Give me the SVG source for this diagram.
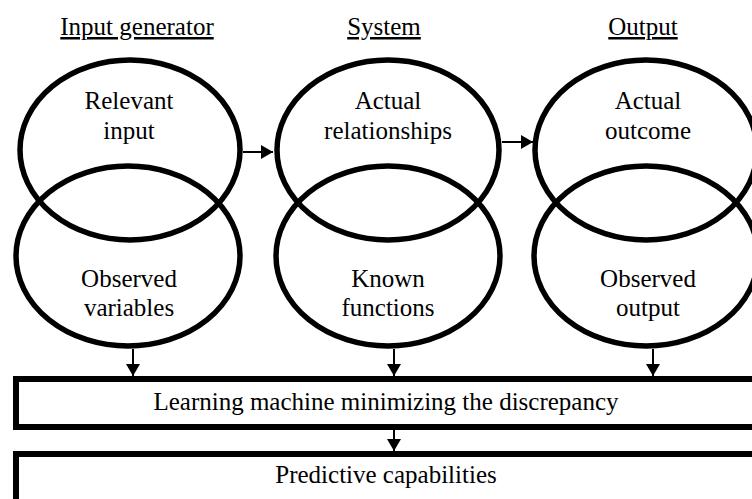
<svg xmlns="http://www.w3.org/2000/svg" width="752" height="499" viewBox="0 0 752 499">
<style>
text{font-family:'Liberation Serif',serif !important;font-size:25px;fill:#000;text-anchor:middle}
.title{text-decoration:underline}
.ell{fill:none;stroke:#000;stroke-width:5.5}
.box{fill:#fff;stroke:#000;stroke-width:6}
.conn{stroke:#000;stroke-width:2;fill:none}
</style>
<defs>
<marker id="ah" viewBox="0 0 12 14" refX="12" refY="7" markerWidth="12" markerHeight="14" markerUnits="userSpaceOnUse" orient="auto">
<path d="M0,0 L12,7 L0,14 Z" fill="#000"/>
</marker>
</defs>
<rect width="752" height="499" fill="#fff"/>
<g id="titles">
<text class="title" x="137" y="35" style="font-family:'Liberation Serif',serif !important">Input generator</text>
<text class="title" x="384" y="35" style="font-family:'Liberation Serif',serif !important">System</text>
<text class="title" x="643" y="35" style="font-family:'Liberation Serif',serif !important">Output</text>
</g>
<g id="relevant-input">
<ellipse class="ell" cx="130" cy="150" rx="110" ry="90"/>
<text x="129" y="109" font-family="Liberation Serif" style="font-family:'Liberation Serif',serif !important">Relevant</text>
<text x="129" y="139" font-family="Liberation Serif" style="font-family:'Liberation Serif',serif !important">input</text>
</g>
<g id="observed-variables">
<ellipse class="ell" cx="128" cy="256" rx="112" ry="90"/>
<text x="129" y="287" font-family="Liberation Serif" style="font-family:'Liberation Serif',serif !important">Observed</text>
<text x="129" y="316" font-family="Liberation Serif" style="font-family:'Liberation Serif',serif !important">variables</text>
</g>
<g id="actual-relationships">
<ellipse class="ell" cx="388" cy="150" rx="111" ry="90"/>
<text x="388" y="109" font-family="Liberation Serif" style="font-family:'Liberation Serif',serif !important">Actual</text>
<text x="388" y="139" font-family="Liberation Serif" style="font-family:'Liberation Serif',serif !important">relationships</text>
</g>
<g id="known-functions">
<ellipse class="ell" cx="388" cy="256" rx="112" ry="90"/>
<text x="388" y="287" font-family="Liberation Serif" style="font-family:'Liberation Serif',serif !important">Known</text>
<text x="388" y="316" font-family="Liberation Serif" style="font-family:'Liberation Serif',serif !important">functions</text>
</g>
<g id="actual-outcome">
<ellipse class="ell" cx="646" cy="150" rx="111" ry="90"/>
<text x="648" y="109" font-family="Liberation Serif" style="font-family:'Liberation Serif',serif !important">Actual</text>
<text x="648" y="139" font-family="Liberation Serif" style="font-family:'Liberation Serif',serif !important">outcome</text>
</g>
<g id="observed-output">
<ellipse class="ell" cx="646" cy="256" rx="112" ry="90"/>
<text x="648" y="287" font-family="Liberation Serif" style="font-family:'Liberation Serif',serif !important">Observed</text>
<text x="648" y="316" font-family="Liberation Serif" style="font-family:'Liberation Serif',serif !important">output</text>
</g>
<g id="learning-machine">
<rect class="box" x="16" y="379" width="750" height="48"/>
<text x="386" y="410" font-family="Liberation Serif" style="font-family:'Liberation Serif',serif !important">Learning machine minimizing the discrepancy</text>
</g>
<g id="predictive">
<rect class="box" x="16" y="454" width="750" height="60"/>
<text x="386" y="483" font-family="Liberation Serif" style="font-family:'Liberation Serif',serif !important">Predictive capabilities</text>
</g>
<g id="connectors">
<line class="conn" x1="243" y1="152" x2="273" y2="152" marker-end="url(#ah)"/>
<line class="conn" x1="502" y1="142" x2="533" y2="142" marker-end="url(#ah)"/>
<line class="conn" x1="133" y1="349" x2="133" y2="376" marker-end="url(#ah)"/>
<line class="conn" x1="394" y1="349" x2="394" y2="376" marker-end="url(#ah)"/>
<line class="conn" x1="653" y1="349" x2="653" y2="376" marker-end="url(#ah)"/>
<line class="conn" x1="394" y1="430" x2="394" y2="451" marker-end="url(#ah)"/>
</g>
</svg>
